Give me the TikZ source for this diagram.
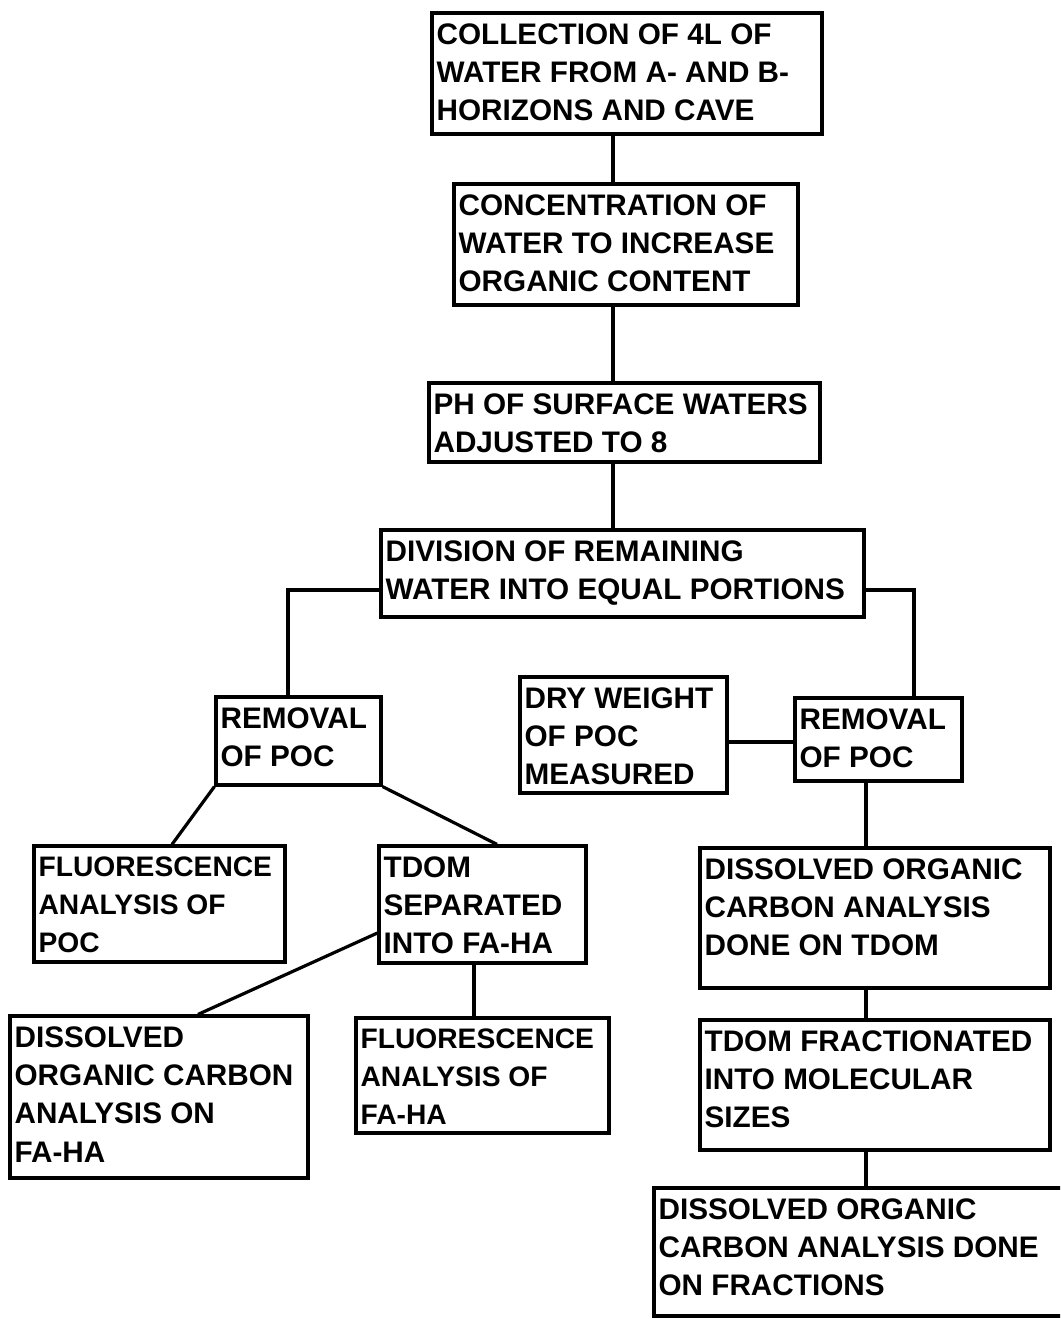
\documentclass[tikz,border=0pt]{standalone}
\usepackage{fontspec}
\setmainfont{Liberation Sans}
\begin{document}
\begin{tikzpicture}[x=1pt,y=-1pt,
  box/.style={draw,line width=3.2pt,rectangle,inner sep=0pt},
  txt/.style={anchor=north west,inner sep=0pt,align=left,
    font=\fontsize{29.7}{38.3}\selectfont\bfseries},
  link/.style={line width=3.2pt}]
\useasboundingbox (0,0) rectangle (1060,1319);
\clip (0,0) rectangle (1060,1319);
\newcommand\bx[6]{%
  \node[box,minimum width={#4-#2},minimum height={#5-#3}] (#1) at ({(#2+#4)/2},{(#3+#5)/2}) {};
  \node[txt] (#1t) at ([shift={(6,12)}]#1.north west) {#6};}
\newcommand\fl{\fontsize{28.2}{38.3}\selectfont}
\bx{b1}{432}{13}{822}{134}{COLLECTION OF 4L OF\\WATER FROM A- AND B-\\HORIZONS AND CAVE}
\bx{b2}{454}{184}{798}{305}{CONCENTRATION OF\\WATER TO INCREASE\\ORGANIC CONTENT}
\bx{b3}{429}{383}{820}{462}{PH OF SURFACE WATERS\\ADJUSTED TO 8}
\bx{b4}{381}{530}{864}{617}{DIVISION OF REMAINING\\WATER INTO EQUAL PORTIONS}
\bx{b5}{216}{697}{381}{785}{REMOVAL\\OF POC}
\bx{b6}{520}{677}{727}{793}{DRY WEIGHT\\OF POC\\MEASURED}
\bx{b7}{795}{698}{962}{781}{REMOVAL\\OF POC}
\bx{b8}{34}{846}{285}{962}{\fl FLUORESCENCE\\\fl ANALYSIS OF\\\fl POC}
\bx{b9}{379}{846}{586}{963}{TDOM\\SEPARATED\\INTO FA-HA}
\bx{b10}{700}{848}{1050}{988}{DISSOLVED ORGANIC\\CARBON ANALYSIS\\DONE ON TDOM}
\bx{b11}{10}{1016}{308}{1178}{DISSOLVED\\ORGANIC CARBON\\ANALYSIS ON\\FA-HA}
\bx{b12}{356}{1018}{609}{1133}{\fl FLUORESCENCE\\\fl ANALYSIS OF\\\fl FA-HA}
\bx{b13}{700}{1020}{1050}{1150}{TDOM FRACTIONATED\\INTO MOLECULAR\\SIZES}
\bx{b14}{654}{1188}{1080}{1316}{DISSOLVED ORGANIC\\CARBON ANALYSIS DONE\\ON FRACTIONS}
\coordinate (c1) at (288,590);
\coordinate (c2) at (914,590);
\draw[link] (b1.south -| 613,0) -- (b2.north -| 613,0);
\draw[link] (b2.south -| 613,0) -- (b3.north -| 613,0);
\draw[link] (b3.south -| 613,0) -- (b4.north -| 613,0);
\draw[link] (b4.west |- c1) -- (c1) -- (c1 |- b5.north);
\draw[link] (b4.east |- c2) -- (c2) -- (c2 |- b7.north);
\draw[link] (b6.east |- 0,742) -- (b7.west |- 0,742);
\draw[link] (b5.south west) -- (b8.north -| 172,0);
\draw[link] (b5.south east) -- (b9.north -| 497,0);
\draw[link] (b9.west |- 0,933) -- (b11.north -| 198,0);
\draw[link] (b9.south -| 474,0) -- (b12.north -| 474,0);
\draw[link] (b7.south -| 866,0) -- (b10.north -| 866,0);
\draw[link] (b10.south -| 866,0) -- (b13.north -| 866,0);
\draw[link] (b13.south -| 866,0) -- (b14.north -| 866,0);
\end{tikzpicture}
\end{document}
